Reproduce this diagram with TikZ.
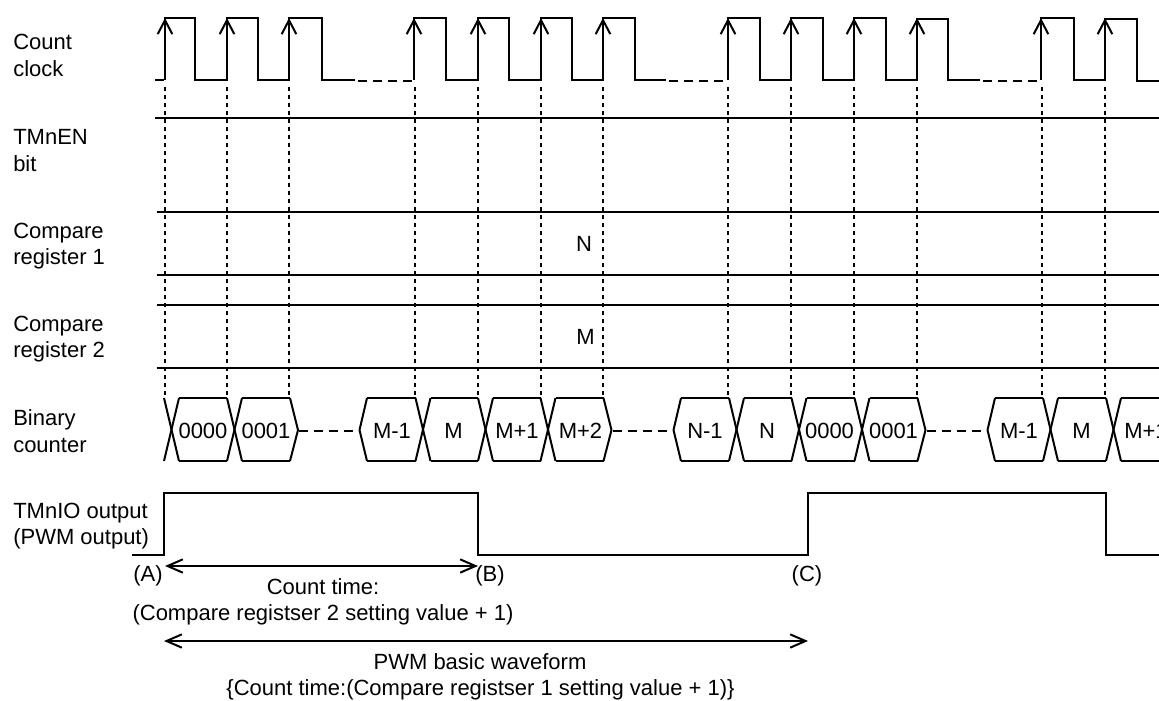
\documentclass[tikz,border=0pt]{standalone}
\usepackage{fontspec}
\setmainfont{Liberation Sans}
\usetikzlibrary{arrows.meta}
\tikzset{
  wave/.style={line width=1.5pt,line join=miter,black},
  rule/.style={line width=1.5pt,black},
  drop/.style={line width=1.6pt,black,dash pattern=on 3pt off 3pt},
  gapline/.style={line width=1.5pt,black,dash pattern=on 6.6pt off 4.65pt},
  edgearrow/.style={line width=1.5pt,black,-{Straight Barb[length=10.5pt,width=11pt,line width=1.5pt]}},
  span/.style={line width=1.5pt,black,{Straight Barb[length=11.5pt,width=10pt,line width=1.5pt]}-{Straight Barb[length=11.5pt,width=10pt,line width=1.5pt]}},
  lab/.style={inner sep=0pt,anchor=base west,font=\fontsize{16.5}{16.5}\selectfont,text=black},
  val/.style={inner sep=0pt,anchor=base,font=\fontsize{16.5}{16.5}\selectfont,text=black},
}
\begin{document}
\begin{tikzpicture}[x=0.75pt,y=-0.75pt]
\useasboundingbox (0,0) rectangle (1159,700);
% left labels
\node[lab] (l1a) at (13,49.5) {Count};
\node[lab] (l1b) at (13,76) {clock};
\node[lab] (l2a) at (13,144) {TMnEN};
\node[lab] (l2b) at (13,171) {bit};
\node[lab] (l3a) at (13,238) {Compare};
\node[lab] (l3b) at (13,264) {register 1};
\node[lab] (l4a) at (13,331) {Compare};
\node[lab] (l4b) at (13,357) {register 2};
\node[lab] (l5a) at (13,425) {Binary};
\node[lab] (l5b) at (13,452) {counter};
\node[lab] (l6a) at (13,518) {TMnIO output};
\node[lab] (l6b) at (13,544) {(PWM output)};
% register rules
\foreach \yy/\xs in {118/155,212/156.5,275/156.5,305/156.5,368/156.5}
  \draw[rule] (\xs,\yy) -- (1159,\yy);
% dotted drop lines
\foreach \xx in {165,227,289,415,478,541,603,728,791,854,917,1042,1105}
  \draw[drop] (\xx,87) -- (\xx,396);
% count clock
\draw[wave] (155,80) -- (164,80);
\draw[wave] (165,80) -- (165,18) -- (195,18) -- (195,80) -- (227,80) -- (227,18) -- (258,18) -- (258,80) -- (289,80) -- (289,18) -- (322,18) -- (322,80) -- (355,80);
\draw[gapline] (358,80.5) -- (414,80.5);
\draw[wave] (414,80) -- (414,18) -- (446,18) -- (446,80) -- (478,80) -- (478,18) -- (509,18) -- (509,80) -- (541,80) -- (541,18) -- (572,18) -- (572,80) -- (603,80) -- (603,18) -- (635,18) -- (635,80) -- (666,80);
\draw[gapline] (669,80.5) -- (728,80.5);
\draw[wave] (728,80) -- (728,18) -- (760,18) -- (760,80) -- (791,80) -- (791,18) -- (823,18) -- (823,80) -- (854,80) -- (854,18) -- (886,18) -- (886,80) -- (917,80) -- (917,19) -- (948,19) -- (948,80) -- (980,80);
\draw[gapline] (983,80.5) -- (1041,80.5);
\draw[wave] (1041,80) -- (1041,18) -- (1074,18) -- (1074,80) -- (1105,80) -- (1105,19) -- (1137,19) -- (1137,81) -- (1159,81);
\foreach \xx in {165,227,289,414,478,541,603,728,791,854,917,1041,1105}
  \draw[edgearrow] (\xx,60) -- (\xx,18);
% binary counter crossings
\foreach \cx in {171.5,234.5,423,485.5,548,736.5,799,862,1050.5,1113.5} {
  \draw[wave,line join=round] (\cx-7.5,398) -- (\cx+7.5,461);
  \draw[wave,line join=round] (\cx+7.5,398) -- (\cx-7.5,461);
}
% binary counter flats and tips
\foreach \a/\b in {179/227,242/290,367/415.5,430.5/478,493/540.5,555.5/603.5,681/729,744/791.5,806.5/854.5,869.5/917.5,995/1043,1058/1106} {
  \draw[wave] (\a,398) -- (\b,398);
  \draw[wave] (\a,461) -- (\b,461);
}
\draw[wave] (1121,398) -- (1159,398);
\draw[wave] (1121,461) -- (1159,461);
\foreach \a in {290,603.5,917.5}
  \draw[wave,line join=round] (\a,398) -- (\a+8,430) -- (\a,461);
\foreach \a in {367,681,995}
  \draw[wave,line join=round] (\a,398) -- (\a-7.5,430) -- (\a,461);
\draw[gapline] (299,430.5) -- (360,430.5);
\draw[gapline] (613,430.5) -- (673,430.5);
\draw[gapline] (927,430.5) -- (987,430.5);
% counter values
\node[val] (v1) at (203,438) {0000};
\node[val] (v2) at (266,438) {0001};
\node[val] (v3) at (392,438) {M-1};
\node[val] (v4) at (453.5,438) {M};
\node[val] (v5) at (517,438) {M+1};
\node[val] (v6) at (580.5,438) {M+2};
\node[val] (v7) at (705,438) {N-1};
\node[val] (v8) at (767,438) {N};
\node[val] (v9) at (829.5,438) {0000};
\node[val] (v10) at (893.5,438) {0001};
\node[val] (v11) at (1019,438) {M-1};
\node[val] (v12) at (1081.5,438) {M};
\node[val,anchor=base west] (v13) at (1124,438) {M+1};
% compare values
\node[val] (cn) at (584,251) {N};
\node[val] (cm) at (585.5,344) {M};
% PWM output
\draw[wave] (132,555) -- (163.5,555) -- (163.5,492.5) -- (478,492.5) -- (478,555) -- (808,555) -- (808,492.5) -- (1105.5,492.5) -- (1105.5,555) -- (1159,555);
% spans
\coordinate (a1) at (165,566);
\coordinate (b1) at (478,566);
\coordinate (a2) at (164,641);
\coordinate (c2) at (808,641);
\draw[span] (a1) -- (b1);
\draw[span] (a2) -- (c2);
\node[val] (pa) at (148,581) {(A)};
\node[val] (pb) at (490,581) {(B)};
\node[val] (pc) at (807,581) {(C)};
\node[val] (t1) at (323,594) {Count time:};
\node[val] (t2) at (323,620) {(Compare registser 2 setting value + 1)};
\node[val] (t3) at (480,669) {PWM basic waveform};
\node[val] (t4) at (480.5,695) {\{Count time:(Compare registser 1 setting value + 1)\}};
\end{tikzpicture}
\end{document}
